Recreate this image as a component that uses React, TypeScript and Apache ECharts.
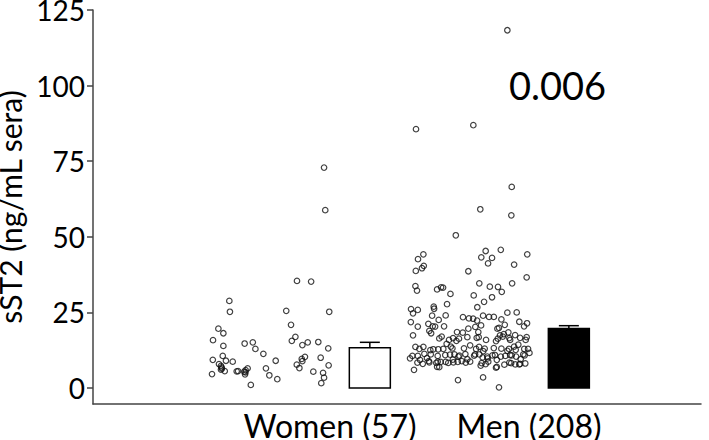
import React, { useEffect, useRef } from "react";
import * as echarts from "echarts";

// Category labels
const categories = ["Women (57)", "Men (208)"];
// Y tick labels
const yTicks = [0, 25, 50, 75, 100, 125];
// Bar means and upper error values
const barMeans = [13.3, 19.7];
const barUpper = [15.1, 20.6];
const pValueText = "0.006";

// Scatter points: [jitter offset from category (category units), value]
const womenPoints: number[][] = [
  [-0.506, 28.8], [-0.503, 25.2], [-0.22, 25.5], [-0.004, 25.2], [-0.561, 19.6],
  [-0.536, 18.1], [-0.196, 20.9], [-0.588, 15.8], [-0.536, 13.9], [-0.429, 14.7],
  [-0.388, 15.1], [-0.375, 12.9], [-0.335, 11.3], [-0.174, 16.9], [-0.192, 15.6],
  [-0.139, 14.2], [-0.112, 15.1], [-0.059, 15.2], [-0.009, 13.1], [-0.539, 10.6],
  [-0.589, 9.3], [-0.523, 9.0], [-0.489, 8.7], [-0.558, 7.9], [-0.548, 7.3],
  [-0.543, 6.4], [-0.529, 5.6], [-0.548, 6.1], [-0.593, 4.6], [-0.469, 5.5],
  [-0.462, 5.6], [-0.431, 5.4], [-0.427, 4.5], [-0.414, 6.5], [-0.424, 5.9],
  [-0.398, 1.0], [-0.322, 6.5], [-0.305, 4.2], [-0.273, 9.0], [-0.265, 2.9],
  [-0.126, 10.3], [-0.142, 9.6], [-0.139, 8.9], [-0.167, 7.7], [-0.154, 6.6],
  [-0.084, 5.4], [-0.047, 10.0], [-0.007, 7.5], [-0.035, 5.0], [-0.03, 3.4],
  [-0.044, 1.6], [-0.03, 72.9], [-0.024, 58.8], [-0.166, 35.4], [-0.095, 35.2],
  [-0.545, 6.8], [-0.425, 5.2],
];

const menPoints: number[][] = [
  [-0.109, 118.3], [-0.568, 85.6], [-0.28, 86.9], [-0.087, 66.5], [-0.245, 59.1],
  [-0.089, 57.1], [-0.368, 50.5], [-0.531, 44.2], [-0.558, 42.6], [-0.218, 45.3],
  [-0.142, 45.7], [-0.009, 44.2], [-0.24, 43.2], [-0.186, 43.0], [-0.206, 41.2],
  [-0.075, 40.8], [-0.529, 40.4], [-0.538, 39.6], [-0.569, 38.7], [-0.305, 38.6],
  [-0.012, 36.6], [-0.085, 34.6], [-0.25, 34.6], [-0.571, 33.7], [-0.563, 32.2],
  [-0.462, 32.6], [-0.442, 33.3], [-0.432, 33.2], [-0.395, 31.1], [-0.197, 33.5],
  [-0.156, 33.4], [-0.137, 31.8], [-0.278, 30.6], [-0.186, 30.0], [-0.226, 28.5],
  [-0.412, 27.7], [-0.593, 26.1], [-0.583, 24.7], [-0.559, 25.8], [-0.479, 26.9],
  [-0.477, 26.2], [-0.26, 26.7], [-0.487, 23.9], [-0.454, 22.5], [-0.419, 24.0],
  [-0.109, 24.9], [-0.062, 25.0], [-0.332, 23.4], [-0.302, 23.0], [-0.281, 22.9],
  [-0.261, 22.3], [-0.231, 23.9], [-0.201, 23.5], [-0.177, 23.5], [-0.139, 22.7],
  [-0.049, 21.9], [-0.01, 21.4], [-0.594, 21.8], [-0.559, 20.3], [-0.506, 21.2],
  [-0.484, 20.4], [-0.472, 20.3], [-0.427, 20.4], [-0.501, 18.9], [-0.492, 18.1],
  [-0.583, 17.4], [-0.305, 19.6], [-0.27, 20.2], [-0.241, 20.7], [-0.255, 18.5],
  [-0.362, 18.5], [-0.333, 18.3], [-0.159, 19.6], [-0.151, 19.9], [-0.122, 20.9],
  [-0.104, 18.4], [-0.025, 20.4], [-0.146, 17.4], [-0.127, 17.8], [-0.07, 17.5],
  [-0.012, 16.8], [-0.451, 16.4], [-0.439, 17.0], [-0.382, 16.5], [-0.365, 15.6],
  [-0.352, 16.3], [-0.253, 16.8], [-0.31, 16.8], [-0.216, 15.9], [-0.157, 16.3],
  [-0.099, 16.5], [-0.017, 15.9], [-0.414, 14.6], [-0.393, 13.7], [-0.571, 13.6],
  [-0.531, 13.6], [-0.496, 12.5], [-0.551, 12.9], [-0.456, 12.8], [-0.481, 12.8],
  [-0.431, 12.9], [-0.296, 14.1], [-0.251, 13.6], [-0.223, 13.0], [-0.177, 13.2],
  [-0.139, 13.0], [-0.101, 12.9], [-0.075, 13.7], [-0.054, 14.3], [-0.005, 12.9],
  [-0.586, 10.6], [-0.598, 9.8], [-0.526, 11.3], [-0.513, 9.9], [-0.494, 11.1],
  [-0.459, 10.6], [-0.421, 10.9], [-0.397, 11.0], [-0.383, 9.4], [-0.355, 10.4],
  [-0.32, 11.2], [-0.31, 9.5], [-0.271, 11.1], [-0.233, 10.1], [-0.208, 9.8],
  [-0.184, 10.8], [-0.162, 9.3], [-0.119, 10.6], [-0.087, 10.8], [-0.065, 10.4],
  [-0.042, 9.5], [-0.022, 10.8], [0.002, 11.6], [-0.561, 8.4], [-0.534, 8.0],
  [-0.501, 8.5], [-0.466, 8.3], [-0.451, 6.9], [-0.444, 8.6], [-0.406, 8.3],
  [-0.358, 8.6], [-0.318, 8.4], [-0.296, 8.7], [-0.243, 7.4], [-0.218, 7.9],
  [-0.166, 6.7], [-0.124, 7.7], [-0.099, 8.4], [-0.069, 7.8], [-0.045, 8.0],
  [-0.019, 8.1], [-0.578, 6.0], [-0.357, 2.6], [-0.231, 3.5], [-0.151, 0.2],
  [-0.402, 15.9], [-0.385, 13.1], [-0.327, 13.1], [-0.559, 10.6], [-0.375, 11.1],
  [-0.35, 10.7], [-0.548, 9.3], [-0.504, 8.9], [-0.459, 8.7], [-0.419, 8.6],
  [-0.38, 8.5], [-0.338, 8.9], [-0.462, 7.0], [-0.263, 16.6], [-0.166, 15.5],
  [-0.132, 17.0], [-0.095, 15.9], [-0.045, 16.6], [-0.266, 12.9], [-0.23, 12.2],
  [-0.109, 12.3], [-0.067, 12.6], [-0.024, 12.9], [-0.276, 10.7], [-0.25, 11.1],
  [-0.21, 10.4], [-0.171, 10.9], [-0.142, 10.4], [-0.095, 10.9], [-0.029, 11.1],
  [-0.238, 8.2], [-0.205, 8.7], [-0.162, 7.0], [-0.09, 8.2], [-0.049, 7.8],
];

const FONT = "Lato";
const BAR_OFFSET = 0.2;
const BAR_HALF = 0.103;

export default function App() {
  const ref = useRef<HTMLDivElement>(null);
  useEffect(() => {
    document.body.style.margin = "0";
    if (!ref.current) return;
    const chart = echarts.init(ref.current, null, { renderer: "svg" });
    const pointStyle = {
      color: "rgba(0,0,0,0)",
      borderColor: "#111",
      borderWidth: 1.2,
    };
    const barData = barMeans.map((m, i) => [i + 1 + BAR_OFFSET, m, barUpper[i], i]);
    chart.setOption({
      animation: false,
      grid: { left: 93, right: 8, top: 10, bottom: 36, outerBoundsMode: "none", containLabel: false },
      xAxis: {
        type: "value",
        min: -0.191,
        max: 2.864,
        splitLine: { show: false },
        axisTick: { show: false },
        axisLine: { show: true, onZero: false, lineStyle: { color: "#444", width: 1.5 } },
        axisLabel: {
          customValues: [1, 2],
          formatter: (v: number) => categories[Math.round(v) - 1] ?? "",
          fontFamily: FONT,
          fontSize: 32,
          lineHeight: 28,
          color: "#000",
          margin: 7,
        },
      },
      yAxis: {
        type: "value",
        min: -5.3,
        max: 125,
        name: "sST2 (ng/mL sera)",
        nameLocation: "middle",
        nameGap: 58,
        nameTextStyle: { fontFamily: FONT, fontSize: 30, lineHeight: 30, color: "#000" },
        splitLine: { show: false },
        axisLine: { show: true, onZero: false, lineStyle: { color: "#444", width: 1.5 } },
        axisTick: {
          show: true,
          customValues: yTicks,
          length: 6,
          lineStyle: { color: "#444", width: 1.5 },
        },
        axisLabel: {
          customValues: yTicks,
          fontFamily: FONT,
          fontSize: 28,
          lineHeight: 22,
          color: "#000",
          margin: 8,
        },
      },
      series: [
        {
          type: "scatter",
          symbol: "circle",
          symbolSize: 5.5,
          itemStyle: pointStyle,
          data: womenPoints.map(([j, v]) => [1 + j, v]),
          z: 3,
        },
        {
          type: "scatter",
          symbol: "circle",
          symbolSize: 5.5,
          itemStyle: pointStyle,
          data: menPoints.map(([j, v]) => [2 + j, v]),
          z: 3,
        },
        {
          type: "custom",
          data: barData,
          z: 4,
          renderItem: (params: any, api: any) => {
            const x = api.value(0);
            const mean = api.value(1);
            const up = api.value(2);
            const idx = api.value(3);
            const pl = api.coord([x - BAR_HALF, 0]);
            const pr = api.coord([x + BAR_HALF, mean]);
            const pc = api.coord([x, mean]);
            const pu = api.coord([x, up]);
            const filled = idx === 1;
            return {
              type: "group",
              children: [
                {
                  type: "line",
                  shape: { x1: pc[0], y1: pc[1], x2: pu[0], y2: pu[1] },
                  style: { stroke: "#000", lineWidth: 1.5 },
                },
                {
                  type: "line",
                  shape: { x1: pu[0] - 10, y1: pu[1], x2: pu[0] + 10, y2: pu[1] },
                  style: { stroke: "#000", lineWidth: 1.5 },
                },
                {
                  type: "rect",
                  shape: {
                    x: pl[0],
                    y: pr[1],
                    width: pr[0] - pl[0],
                    height: pl[1] - pr[1],
                  },
                  style: {
                    fill: filled ? "#000" : "#fff",
                    stroke: "#000",
                    lineWidth: 1.5,
                  },
                },
              ],
            };
          },
        },
      ],
      graphic: [
        {
          type: "text",
          left: 509,
          top: 66,
          style: {
            text: pValueText,
            fontFamily: FONT,
            fontSize: 38,
            fill: "#000",
          },
        },
      ],
    });
    return () => chart.dispose();
  }, []);
  return <div ref={ref} style={{ width: 709, height: 440 }} />;
}
